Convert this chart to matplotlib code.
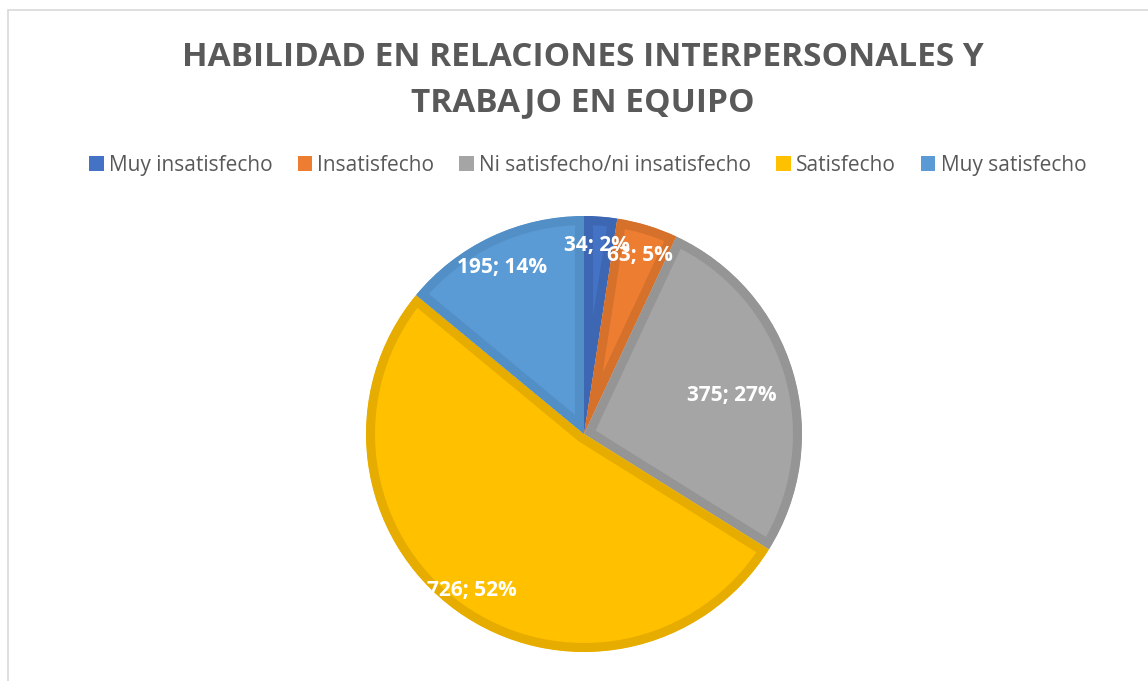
import matplotlib
matplotlib.use('Agg')
import matplotlib.pyplot as plt
from matplotlib.patches import Rectangle
import numpy as np

categories = ["Muy insatisfecho", "Insatisfecho", "Ni satisfecho/ni insatisfecho",
              "Satisfecho", "Muy satisfecho"]
values = [34, 63, 375, 726, 195]
colors = ["#4472C4", "#ED7D31", "#A5A5A5", "#FFC000", "#5B9BD5"]
edge_colors = ["#3D67B3", "#D6712C", "#959595", "#E6AD00", "#518FC6"]
title = "HABILIDAD EN RELACIONES INTERPERSONALES Y\nTRABAJO EN EQUIPO"

# label placement (fraction of radius, angular offset in degrees) - best-fit style
label_radius = [0.88, 0.87, 0.705, 0.875, 0.862]
label_dangle = [0.5, -0.3, -1.0, -0.3, 0.7]

W, H = 1148, 681
fig = plt.figure(figsize=(W / 100, H / 100), dpi=100)
fig.patch.set_facecolor("white")

font = "Open Sans"
text_gray = "#595959"

# chart-area frame
fig.patches.append(Rectangle((8 / W, -0.1), 1.2, (H - 10) / H + 0.1,
                             transform=fig.transFigure, fill=False,
                             edgecolor="#D9D9D9", lw=1.2, zorder=0))

cx, cy, r = 584, 434, 218
ax = fig.add_axes([(cx - r) / W, (H - cy - r) / H, 2 * r / W, 2 * r / H])
wedges, _ = ax.pie(values, colors=colors, startangle=90, counterclock=False,
                   radius=1.0, wedgeprops=dict(linewidth=13))
for w, ec in zip(wedges, edge_colors):
    w.set_edgecolor(ec)
    w.set_clip_path(w)
    w.set_clip_on(True)
ax.set_xlim(-1.0, 1.0)
ax.set_ylim(-1.0, 1.0)
ax.set_aspect("equal")
ax.axis("off")

total = sum(values)
for w, v, lr, da in zip(wedges, values, label_radius, label_dangle):
    mid = np.deg2rad((w.theta1 + w.theta2) / 2 + da)
    pct = round(100 * v / total)
    ax.text(lr * np.cos(mid), lr * np.sin(mid), f"{v}; {pct}%",
            ha="center", va="center_baseline", color="white", fontsize=15,
            fontweight="bold", family=font, clip_on=False)

fig.text(0.508, 1 - 80 / H, title, ha="center", va="center", fontsize=24,
         fontweight="bold", color=text_gray, family=font, linespacing=1.45)

handles = [Rectangle((0, 0), 1, 1, facecolor=c, edgecolor="none") for c in colors]
fig.legend(handles, categories, loc="center", bbox_to_anchor=(0.512, 1 - 165 / H),
           ncol=5, frameon=False, handlelength=0.7, handleheight=0.7,
           handletextpad=0.25, columnspacing=1.2,
           prop=dict(family=font, size=15), labelcolor=text_gray)

fig.savefig("out.png", dpi=100)
